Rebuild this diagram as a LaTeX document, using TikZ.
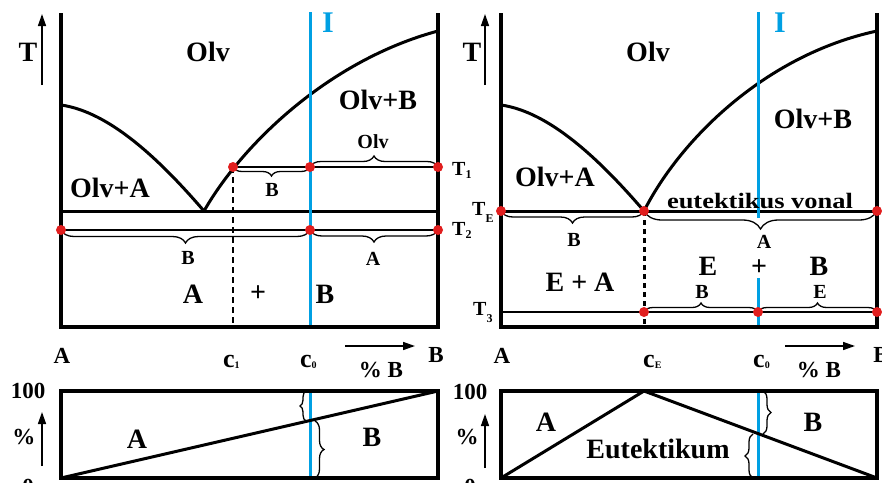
\documentclass[tikz,border=0pt]{standalone}
\usepackage{fontspec}
\setmainfont{Liberation Serif}
\usetikzlibrary{arrows.meta,decorations.pathreplacing}
\definecolor{cblue}{RGB}{0,160,227}
\definecolor{cred}{RGB}{225,30,30}
\newcommand{\lowsub}[2]{\raisebox{-#1}{\fontsize{12}{12}\selectfont #2}}
\newcommand{\csub}[1]{\raisebox{-1pt}{\fontsize{10}{10}\selectfont #1}}
\begin{document}
\begin{tikzpicture}[x=1pt,y=-1pt,
  frame/.style={line width=4pt},
  curve/.style={line width=3pt},
  thinline/.style={line width=1.2pt},
  blueline/.style={line width=3pt,draw=cblue},
  dot/.style={circle,fill=cred,inner sep=0pt,minimum size=10pt},
  brc/.style={decorate,decoration={brace,amplitude=#1},line width=1.3pt},
  brcm/.style={decorate,decoration={brace,amplitude=#1,mirror},line width=1.3pt},
  big/.style={font=\fontsize{28}{28}\selectfont\bfseries,inner sep=1pt},
  bigI/.style={font=\fontsize{30}{30}\selectfont\bfseries,text=cblue,inner sep=1pt},
  mid/.style={font=\fontsize{20}{20}\selectfont\bfseries,inner sep=1pt},
  axl/.style={font=\fontsize{23}{23}\selectfont\bfseries,inner sep=1pt},
  tl/.style={font=\fontsize{20}{20}\selectfont\bfseries,anchor=base west,inner sep=0pt},
  cl/.style={font=\fontsize{26}{26}\selectfont\bfseries,anchor=base west,inner sep=0pt},
  arr/.style={line width=1.5pt,-{Triangle[length=12pt,width=8pt]}}]
\useasboundingbox (0,0) rectangle (882,482);

% ================= LEFT DIAGRAM =================
\coordinate (LTL) at (61,13);
\coordinate (LBL) at (61,327);
\coordinate (LBR) at (438,327);
\coordinate (LTR) at (438,13);
\coordinate (LA) at (61,105);
\coordinate (LV) at (204,211);
\coordinate (LB) at (438,31);
\coordinate (LE1) at (61,211);
\coordinate (LE2) at (438,211);
\coordinate (P1) at (233,167);
\coordinate (P2) at (310,167);
\coordinate (P3) at (438,167);
\coordinate (Q1) at (61,230);
\coordinate (Q2) at (310,230);
\coordinate (Q3) at (438,230);
\coordinate (LBt) at (310,12);
\coordinate (LBb) at (310,327);
\coordinate (LD) at (233,327);

\draw[thinline,dash pattern=on 6pt off 4pt] (P1) -- (LD);
\draw[curve] (LA) .. controls (110,112) and (160,160) .. (LV);
\draw[curve] (LV) .. controls (243,143) and (330,60) .. (LB);
\draw[curve] (LE1) -- (LE2);
\draw[thinline] (P1) -- (P3);
\draw[thinline] (Q1) -- (Q3);
\draw[blueline] (LBt) -- (LBb);
\draw[frame] (LTL) -- (LBL) -- (LBR) -- (LTR);

\draw[brcm=9pt] (P1) -- (P2);
\draw[brc=11pt] (P2) -- (P3);
\draw[brcm=13pt] (Q1) -- (Q2);
\draw[brcm=12pt] (Q2) -- (Q3);

\foreach \p in {P1,P2,P3,Q1,Q2,Q3} \node[dot] at (\p) {};

\node[big] (lolv) at (208,52) {Olv};
\node[bigI] (lI) at (328,23) {I};
\node[big] (lolvb) at (378,100) {Olv+B};
\node[mid] (lbolv) at (373,142) {Olv};
\node[big] (lolva) at (110,188) {Olv+A};
\node[mid] (lb1) at (272,190) {B};
\node[mid] (lb2) at (188,258) {B};
\node[mid] (la2) at (373,259) {A};
\node[big] (lA) at (193,294) {A};
\node[big] (lplus) at (258,294) {+};
\node[big] (lB) at (325,294) {B};

\node[tl] (t1) at (452,175) {T\lowsub{3pt}{1}};
\node[tl] (t2) at (452,235) {T\lowsub{3pt}{2}};

\node[big] (lT) at (28,52) {T};
\coordinate (lTa) at (42,85);
\coordinate (lTb) at (42,14);
\draw[arr] (lTa) -- (lTb);

\node[axl] (lxA) at (62,356) {A};
\node[cl] (lc1) at (223,367) {c\csub{1}};
\node[cl] (lc0) at (300,367) {c\csub{0}};
\coordinate (lxa1) at (345,346);
\coordinate (lxa2) at (415,346);
\draw[arr] (lxa1) -- (lxa2);
\node[axl] (lpb) at (381,370) {\% B};
\node[axl] (lxB) at (436,355) {B};

% bottom left box
\coordinate (lb1a) at (61,391);
\coordinate (lb1b) at (438,478);
\coordinate (lb0) at (61,478);
\coordinate (lb100) at (438,391);
\coordinate (lbt) at (310,391);
\coordinate (lbm) at (310,421);
\coordinate (lbb) at (310,478);
\draw[blueline] (lbt) -- (lbb);
\draw[frame] (lb1a) rectangle (lb1b);
\draw[curve] (lb0) -- (lb100);
\draw[brcm=6pt] ([xshift=-4pt]lbt) -- ([xshift=-4pt]lbm);
\draw[brc=9pt] ([xshift=5pt]lbm) -- ([xshift=5pt]lbb);
\node[big] (lbA) at (137,439) {A};
\node[big] (lbB) at (372,437) {B};
\node[axl] (l100) at (28,391) {100};
\node[axl] (lpc) at (24,437) {\%};
\node[axl] (l0) at (28,487) {0};
\coordinate (lpa) at (42,466);
\coordinate (lpb2) at (42,412);
\draw[arr] (lpa) -- (lpb2);

% ================= RIGHT DIAGRAM =================
\coordinate (RTL) at (501,13);
\coordinate (RBL) at (501,327);
\coordinate (RBR) at (877,327);
\coordinate (RTR) at (877,13);
\coordinate (RA) at (501,105);
\coordinate (RV) at (644,211);
\coordinate (RB) at (877,31);
\coordinate (E1) at (501,211);
\coordinate (E2) at (644,211);
\coordinate (E3) at (877,211);
\coordinate (S1) at (644,312);
\coordinate (S2) at (758,312);
\coordinate (S3) at (877,312);
\coordinate (S0) at (501,312);
\coordinate (RBt) at (758,12);
\coordinate (RBm1) at (758,218);
\coordinate (RBm2) at (758,278);
\coordinate (RBb) at (758,327);
\coordinate (RD) at (644,327);

\draw[curve,dash pattern=on 5pt off 4pt] (E2) -- (RD);
\draw[curve] (RA) .. controls (550,112) and (600,160) .. (RV);
\draw[curve] (RV) .. controls (680,140) and (765,55) .. (RB);
\draw[curve] (E1) -- (E3);
\draw[thinline] (S0) -- (S3);
\draw[blueline] (RBt) -- (RBm1);
\draw[blueline] (RBm2) -- (RBb);
\draw[frame] (RTL) -- (RBL) -- (RBR) -- (RTR);

\draw[brcm=12pt] (E1) -- (E2);
\draw[brcm=18pt] (E2) -- (E3);
\draw[brc=9pt] (S1) -- (S2);
\draw[brc=9pt] (S2) -- (S3);

\foreach \p in {E1,E2,E3,S1,S2,S3} \node[dot] at (\p) {};

\node[big] (rolv) at (648,52) {Olv};
\node[bigI] (rI) at (780,23) {I};
\node[big] (rolvb) at (813,119) {Olv+B};
\node[big] (rolva) at (555,177) {Olv+A};
\node[font=\fontsize{22}{22}\selectfont\bfseries,anchor=base,inner sep=0pt] (eut) at (760,208) {\resizebox{186pt}{\height}{eutektikus vonal}};
\node[mid] (rb1) at (574,240) {B};
\node[mid,inner sep=0pt] (ra1) at (764,242) {A};
\node[big] (rEA) at (580,282) {E + A};
\node[big] (rE) at (708,266) {E};
\node[big,inner sep=0pt] (rplus) at (759,268) {+};
\node[big] (rB) at (819,266) {B};
\node[mid] (rb3) at (702,292) {B};
\node[mid] (re3) at (820,292) {E};

\node[tl] (tE) at (472,215) {T\lowsub{7pt}{E}};
\node[tl] (t3) at (473,315) {T\lowsub{7pt}{3}};

\node[big] (rT) at (472,52) {T};
\coordinate (rTa) at (485,85);
\coordinate (rTb) at (485,14);
\draw[arr] (rTa) -- (rTb);

\node[axl] (rxA) at (502,356) {A};
\node[cl] (rcE) at (643,367) {c\csub{E}};
\node[cl] (rc0) at (753,367) {c\csub{0}};
\coordinate (rxa1) at (785,346);
\coordinate (rxa2) at (855,346);
\draw[arr] (rxa1) -- (rxa2);
\node[axl] (rpb) at (819,370) {\% B};
\node[axl] (rxB) at (881,355) {B};

% bottom right box
\coordinate (rb1a) at (501,391);
\coordinate (rb1b) at (877,478);
\coordinate (rb0) at (501,478);
\coordinate (rbpk) at (644,391);
\coordinate (rbend) at (877,478);
\coordinate (rbt) at (758,391);
\coordinate (rbm) at (758,434);
\coordinate (rbb) at (758,478);
\draw[blueline] (rbt) -- (rbb);
\draw[frame] (rb1a) rectangle (rb1b);
\draw[curve] (rb0) -- (rbpk) -- (rbend);
\draw[brc=8pt] ([xshift=5pt]rbt) -- ([xshift=5pt]rbm);
\draw[brcm=8pt] ([xshift=-5pt]rbm) -- ([xshift=-5pt]rbb);
\node[big] (rbA) at (546,422) {A};
\node[big] (rbB) at (813,422) {B};
\node[big] (rbEu) at (658,449) {Eutektikum};
\node[axl] (r100) at (470,392) {100};
\node[axl] (rpc) at (467,437) {\%};
\node[axl] (r0) at (470,487) {0};
\coordinate (rpa) at (485,468);
\coordinate (rpb2) at (485,414);
\draw[arr] (rpa) -- (rpb2);
\end{tikzpicture}
\end{document}
